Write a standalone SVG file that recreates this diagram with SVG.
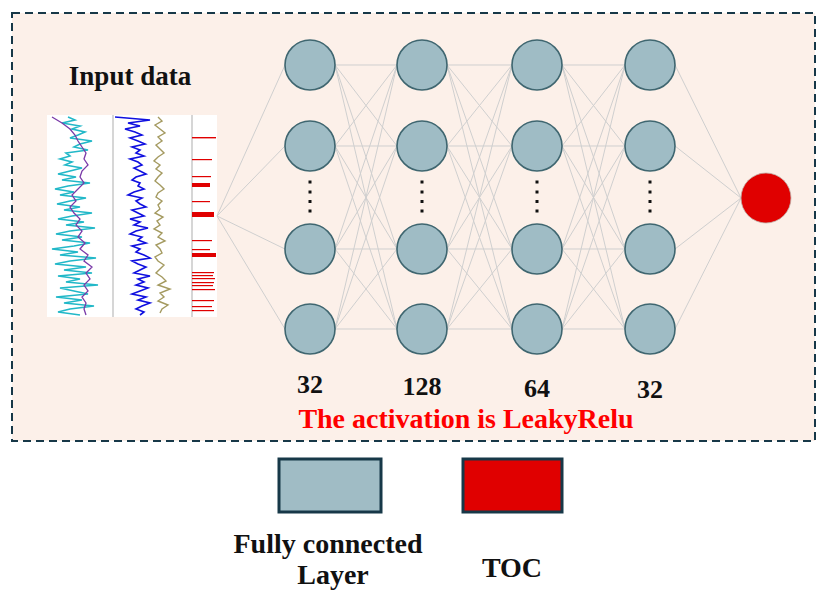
<svg xmlns="http://www.w3.org/2000/svg" width="827" height="606" viewBox="0 0 827 606">
<style>
.conn line{stroke:#cfcfcf;stroke-width:1}
.node{fill:#9fbcc5;stroke:#3f6670;stroke-width:1.6}
.out{fill:#e00000;stroke:#c0b0a8;stroke-width:0.8}
.dot{fill:#111}
.t{font-family:"Liberation Serif","Times New Roman",serif;font-weight:bold;fill:#111}
.red{fill:#ff0000}
.leg{stroke:#173848;stroke-width:3}
</style>
<rect x="0" y="0" width="827" height="606" fill="#ffffff"/>
<rect id="frame" x="12" y="13" width="803" height="428" fill="#fcf0e9" stroke="#173848" stroke-width="2" stroke-dasharray="8,5"/>

<g id="input-data">
<text class="t" x="130" y="85" font-size="27" text-anchor="middle">Input data</text>
<rect x="47" y="115" width="170" height="202" fill="#ffffff"/>
<line x1="113" y1="115" x2="113" y2="317" stroke="#bbbbbb" stroke-width="1.2"/>
<line x1="192" y1="115" x2="192" y2="317" stroke="#bbbbbb" stroke-width="1.2"/>
<polyline fill="none" stroke="#22b8c8" stroke-width="1.6" points="68,117 75,120 62,123 80,126 72,129 85,132 78,135 70,138 92,141 80,144 74,147 88,150 66,153 70,156 60,159 72,162 65,165 82,168 70,171 58,174 76,177 62,180 90,183 68,186 55,189 74,192 60,195 86,198 70,201 57,204 80,207 64,210 92,213 72,216 58,219 84,222 66,225 95,228 70,231 56,234 82,237 62,240 90,243 74,246 52,249 78,252 60,255 96,258 70,261 55,264 86,267 64,270 92,273 58,276 80,279 66,282 98,285 60,288 74,291 88,294 56,297 82,300 64,303 94,306 70,309 58,312 80,315"/>
<polyline fill="none" stroke="#7a3aa8" stroke-width="1.3" points="52,117 62,123 70,129 75,135 78,141 82,147 86,153 84,159 88,165 82,171 80,177 84,183 78,189 72,195 76,201 70,207 74,213 80,219 76,225 82,231 78,237 85,243 80,249 88,255 84,261 92,267 86,273 90,279 84,285 88,291 82,297 86,303 84,309 86,315"/>
<polyline fill="none" stroke="#a49a60" stroke-width="1.4" points="158,117 162,121 155,125 160,129 165,133 158,137 162,141 156,145 160,149 164,153 158,157 154,161 160,165 156,169 162,173 158,177 155,181 160,185 164,189 158,193 156,197 162,201 158,205 160,209 155,213 163,217 157,221 160,225 154,229 162,233 158,237 165,241 156,245 160,249 162,253 155,257 158,261 164,265 160,269 156,273 162,277 166,281 158,285 170,289 160,293 164,297 158,301 168,305 162,309 160,313"/>
<polyline fill="none" stroke="#1010e0" stroke-width="1.6" points="115,117 150,120 128,123 140,126 125,129 135,132 142,135 130,138 138,141 145,144 132,147 140,150 136,153 144,156 130,159 138,162 142,165 134,168 140,171 146,174 136,177 132,180 140,183 138,186 144,189 134,192 128,195 142,198 136,201 140,204 146,207 132,210 138,213 144,216 130,219 140,222 134,225 148,228 136,231 130,234 142,237 138,240 146,243 132,246 140,249 136,252 144,255 150,258 132,261 138,264 146,267 140,270 134,273 150,276 138,279 144,282 136,285 148,288 140,291 132,294 146,297 138,300 150,303 142,306 136,309 144,312 140,315"/>
<g fill="#e00000">
<rect x="192" y="137" width="24" height="1.4"/>
<rect x="192" y="159" width="20" height="1.2"/>
<rect x="192" y="176" width="19" height="1.2"/>
<rect x="192" y="183" width="18" height="4"/>
<rect x="192" y="201" width="18" height="1.2"/>
<rect x="192" y="212" width="22" height="5"/>
<rect x="192" y="240" width="20" height="1.2"/>
<rect x="192" y="249" width="18" height="1.2"/>
<rect x="192" y="253" width="24" height="4"/>
<rect x="192" y="272" width="22" height="1.2"/>
<rect x="192" y="275" width="21" height="1.2"/>
<rect x="192" y="278" width="23" height="1.2"/>
<rect x="192" y="282" width="22" height="1.2"/>
<rect x="192" y="285" width="21" height="1.2"/>
<rect x="192" y="289" width="23" height="1.2"/>
<rect x="192" y="300" width="22" height="1.2"/>
<rect x="192" y="306" width="20" height="1.2"/>
<rect x="192" y="310" width="22" height="1.2"/>
</g>
</g>

<g id="connectors" class="conn">
<line x1="217" y1="216" x2="285" y2="65"/>
<line x1="217" y1="216" x2="285" y2="146"/>
<line x1="217" y1="216" x2="285" y2="249"/>
<line x1="217" y1="216" x2="285" y2="329"/>

<line x1="335" y1="65" x2="397" y2="65"/><line x1="335" y1="65" x2="397" y2="146"/><line x1="335" y1="65" x2="397" y2="249"/><line x1="335" y1="65" x2="397" y2="329"/>
<line x1="335" y1="146" x2="397" y2="65"/><line x1="335" y1="146" x2="397" y2="146"/><line x1="335" y1="146" x2="397" y2="249"/><line x1="335" y1="146" x2="397" y2="329"/>
<line x1="335" y1="249" x2="397" y2="65"/><line x1="335" y1="249" x2="397" y2="146"/><line x1="335" y1="249" x2="397" y2="249"/><line x1="335" y1="249" x2="397" y2="329"/>
<line x1="335" y1="329" x2="397" y2="65"/><line x1="335" y1="329" x2="397" y2="146"/><line x1="335" y1="329" x2="397" y2="249"/><line x1="335" y1="329" x2="397" y2="329"/>

<line x1="447" y1="65" x2="512" y2="65"/><line x1="447" y1="65" x2="512" y2="146"/><line x1="447" y1="65" x2="512" y2="249"/><line x1="447" y1="65" x2="512" y2="329"/>
<line x1="447" y1="146" x2="512" y2="65"/><line x1="447" y1="146" x2="512" y2="146"/><line x1="447" y1="146" x2="512" y2="249"/><line x1="447" y1="146" x2="512" y2="329"/>
<line x1="447" y1="249" x2="512" y2="65"/><line x1="447" y1="249" x2="512" y2="146"/><line x1="447" y1="249" x2="512" y2="249"/><line x1="447" y1="249" x2="512" y2="329"/>
<line x1="447" y1="329" x2="512" y2="65"/><line x1="447" y1="329" x2="512" y2="146"/><line x1="447" y1="329" x2="512" y2="249"/><line x1="447" y1="329" x2="512" y2="329"/>

<line x1="562" y1="65" x2="625" y2="65"/><line x1="562" y1="65" x2="625" y2="146"/><line x1="562" y1="65" x2="625" y2="249"/><line x1="562" y1="65" x2="625" y2="329"/>
<line x1="562" y1="146" x2="625" y2="65"/><line x1="562" y1="146" x2="625" y2="146"/><line x1="562" y1="146" x2="625" y2="249"/><line x1="562" y1="146" x2="625" y2="329"/>
<line x1="562" y1="249" x2="625" y2="65"/><line x1="562" y1="249" x2="625" y2="146"/><line x1="562" y1="249" x2="625" y2="249"/><line x1="562" y1="249" x2="625" y2="329"/>
<line x1="562" y1="329" x2="625" y2="65"/><line x1="562" y1="329" x2="625" y2="146"/><line x1="562" y1="329" x2="625" y2="249"/><line x1="562" y1="329" x2="625" y2="329"/>

<line x1="675" y1="65" x2="741" y2="198"/>
<line x1="675" y1="146" x2="741" y2="198"/>
<line x1="675" y1="249" x2="741" y2="198"/>
<line x1="675" y1="329" x2="741" y2="198"/>
</g>

<g id="layer1">
<circle class="node" cx="310" cy="65" r="25"/>
<circle class="node" cx="310" cy="146" r="25"/>
<circle class="node" cx="310" cy="249" r="25"/>
<circle class="node" cx="310" cy="329" r="25"/>
<rect class="dot" x="308.5" y="180.5" width="3" height="3"/><rect class="dot" x="308.5" y="190.5" width="3" height="3"/><rect class="dot" x="308.5" y="200" width="3" height="3"/><rect class="dot" x="308.5" y="209.5" width="3" height="3"/>
<text class="t" x="310" y="393" font-size="26" text-anchor="middle">32</text>
</g>
<g id="layer2">
<circle class="node" cx="422" cy="65" r="25"/>
<circle class="node" cx="422" cy="146" r="25"/>
<circle class="node" cx="422" cy="249" r="25"/>
<circle class="node" cx="422" cy="329" r="25"/>
<rect class="dot" x="420.5" y="180.5" width="3" height="3"/><rect class="dot" x="420.5" y="190.5" width="3" height="3"/><rect class="dot" x="420.5" y="200" width="3" height="3"/><rect class="dot" x="420.5" y="209.5" width="3" height="3"/>
<text class="t" x="422" y="395" font-size="26" text-anchor="middle">128</text>
</g>
<g id="layer3">
<circle class="node" cx="537" cy="65" r="25"/>
<circle class="node" cx="537" cy="146" r="25"/>
<circle class="node" cx="537" cy="249" r="25"/>
<circle class="node" cx="537" cy="329" r="25"/>
<rect class="dot" x="535.5" y="180.5" width="3" height="3"/><rect class="dot" x="535.5" y="190.5" width="3" height="3"/><rect class="dot" x="535.5" y="200" width="3" height="3"/><rect class="dot" x="535.5" y="209.5" width="3" height="3"/>
<text class="t" x="537" y="397" font-size="26" text-anchor="middle">64</text>
</g>
<g id="layer4">
<circle class="node" cx="650" cy="65" r="25"/>
<circle class="node" cx="650" cy="146" r="25"/>
<circle class="node" cx="650" cy="249" r="25"/>
<circle class="node" cx="650" cy="329" r="25"/>
<rect class="dot" x="648.5" y="180.5" width="3" height="3"/><rect class="dot" x="648.5" y="190.5" width="3" height="3"/><rect class="dot" x="648.5" y="200" width="3" height="3"/><rect class="dot" x="648.5" y="209.5" width="3" height="3"/>
<text class="t" x="650" y="398" font-size="26" text-anchor="middle">32</text>
</g>
<g id="output">
<circle class="out" cx="766" cy="198" r="25"/>
</g>

<text class="t red" x="466" y="428" font-size="28" text-anchor="middle">The activation is LeakyRelu</text>

<g id="legend-fc">
<rect class="leg" x="279" y="459" width="102" height="53" fill="#a0bcc5"/>
<text class="t" x="328" y="553" font-size="28" text-anchor="middle">Fully connected</text>
<text class="t" x="333" y="584" font-size="28" text-anchor="middle">Layer</text>
</g>
<g id="legend-toc">
<rect class="leg" x="463" y="459" width="99" height="53" fill="#e00000"/>
<text class="t" x="512" y="577" font-size="28" text-anchor="middle">TOC</text>
</g>
</svg>
